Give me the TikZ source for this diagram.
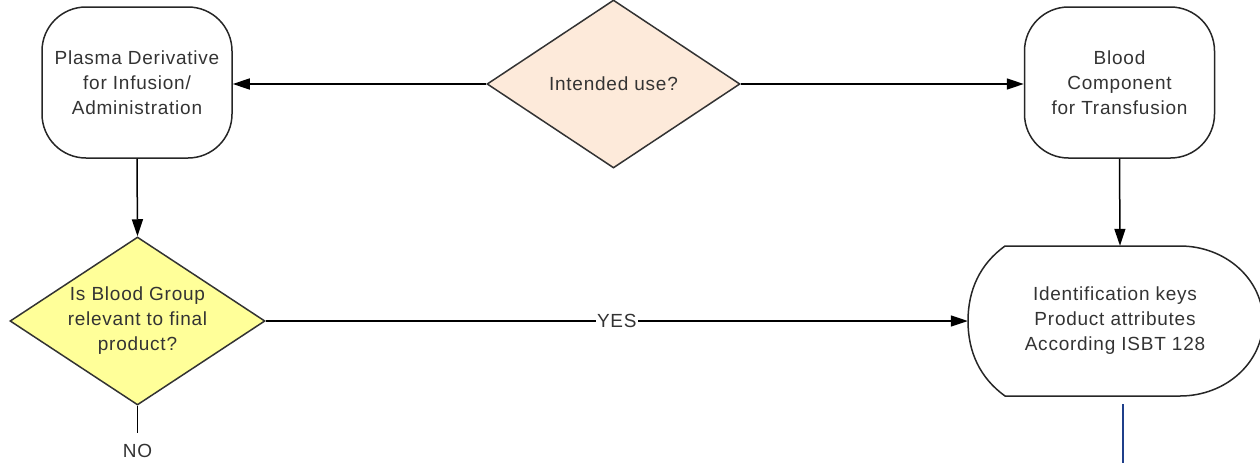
\documentclass[tikz,border=0pt]{standalone}
\usepackage{fontspec}
\setmainfont[LetterSpace=4]{Liberation Sans}
\usetikzlibrary{arrows.meta,shapes.geometric}
\definecolor{peach}{HTML}{FDEADA}
\definecolor{lyellow}{HTML}{FFFF99}
\definecolor{txtgray}{HTML}{333333}
\definecolor{navy}{HTML}{1F3F8A}
\tikzset{
  base/.style={font=\fontsize{19}{25}\selectfont, text=txtgray, align=center},
  rbox/.style={base, draw=black!85, line width=1.5pt, rectangle, rounded corners=44pt,
    minimum width=190pt, minimum height=151pt, inner sep=0pt},
  dia/.style={draw=black!80, line width=1.5pt, diamond, inner sep=0pt},
  conn/.style={line width=1.5pt, -{Triangle[length=17pt,width=11pt]}},
  plain/.style={line width=1.5pt},
  lbl/.style={base, fill=white, inner sep=1pt},
}
\begin{document}
\begin{tikzpicture}[x=1pt,y=-1pt]
\useasboundingbox (0,0) rectangle (1260,463);
\clip (0,0) rectangle (1260,463);
% nodes
\node[rbox] (box1) at (137,82.5) {Plasma Derivative\\for Infusion/\\Administration};
\node[rbox] (box2) at (1119.5,82.5) {Blood\\Component\\for Transfusion};
\node[dia, fill=peach, minimum width=253pt, minimum height=168pt] (d1) at (613.5,84) {};
\node[base] (d1t) at (d1.center) {Intended use?};
\node[dia, fill=lyellow, minimum width=255pt, minimum height=168pt] (d2) at (137.5,321) {};
\node[base] (d2t) at (d2.center) {Is Blood Group\\relevant to final\\product?};
% display shape
\node[minimum width=304pt, minimum height=150pt, inner sep=0pt] (disp) at (1120,321) {};
\draw[plain, draw=black!85] (1005,246) -- (1180,246)
  arc[start angle=90, end angle=-90, x radius=83, y radius=-75]
  -- (1005,396)
  .. controls (980,378) and (968,352) .. (968,321)
  .. controls (968,290) and (980,264) .. (1005,246) -- cycle;
\node[base] (dispt) at (1115,321) {Identification keys\\Product attributes\\According ISBT 128};
% connectors
\draw[conn] (d1.west) -- (d1.west -| box1.east);
\draw[conn] (d1.east) -- (d1.east -| box2.west);
\draw[conn] (box1.south) -- (d2.north);
\draw[conn] (box2.south) -- (disp.north);
\draw[conn] (d2.east) -- node[lbl] (yes) {YES} (disp.west);
\coordinate (noend) at (137.5,433);
\draw[plain] (d2.south) -- (noend);
\node[base, text=black!80] (no) at (137.5,451) {NO};
\coordinate (b1) at (1123,404);
\coordinate (b2) at (1123,463);
\draw[navy, line width=2.2pt] (b1) -- (b2);
\end{tikzpicture}
\end{document}
